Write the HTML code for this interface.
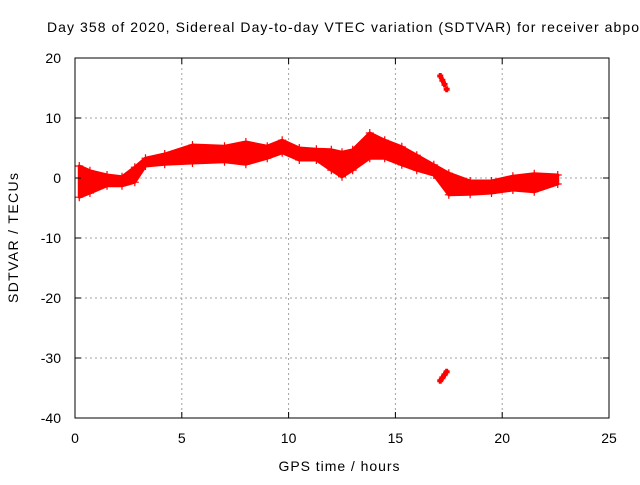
<!DOCTYPE html>
<html><head><meta charset="utf-8"><style>
body{margin:0;background:#fff;overflow:hidden}
svg{font-family:"Liberation Sans",sans-serif;font-size:14px}
</style></head><body>
<svg id="c" width="640" height="480">
<text x="47" y="32" textLength="592" lengthAdjust="spacing">Day 358 of 2020, Sidereal Day-to-day VTEC variation (SDTVAR) for receiver abpo</text>
<g id="grid"></g><g id="data"></g><g id="axes"></g>
<text x="339" y="471" text-anchor="middle" textLength="121">GPS time / hours</text>
<text transform="translate(18,238) rotate(-90)" text-anchor="middle" textLength="130">SDTVAR / TECUs</text>
</svg>
<script>
const xTicks=[0,5,10,15,20,25];
const yTicks=[20,10,0,-10,-20,-30,-40];
const hours=[0.2,0.7,1.5,2.2,2.8,3.3,4.2,5.5,7,8,9,9.7,10.5,11.3,12,12.5,13,13.8,14.5,15.3,16,16.8,17.5,18.5,19.5,20.5,21.5,22.6];
const upper=[2,1.2,0.5,0.2,1.8,3.3,4,5.5,5.3,6,5.3,6.3,5,4.8,4.7,4.3,4.7,7.5,6.3,5.2,3.8,2.2,0.8,-0.5,-0.5,0.3,0.7,0.5];
const lower=[-3.2,-2.5,-1.3,-1.3,-0.7,2,2.3,2.5,2.7,2.3,3.3,4.2,3,3,1.3,0.2,1.3,3.3,3.3,2.2,1.3,0.5,-2.8,-2.7,-2.5,-2,-2.3,-1];
const outHours=[17.1,17.2,17.3,17.4,17.1,17.2,17.3,17.4];
const outValues=[17,16.3,15.6,14.8,-33.8,-33.3,-32.8,-32.3];
const NS="http://www.w3.org/2000/svg";
const X0=75,X1=609,Y0=58,Y1=418;
const sx=v=>X0+(v-0)/25*(X1-X0);
const sy=v=>Y0+(20-v)/60*(Y1-Y0);
function mk(tag,attrs,parent){const e=document.createElementNS(NS,tag);for(const k in attrs)e.setAttribute(k,attrs[k]);parent.appendChild(e);return e;}
const grid=document.getElementById('grid'),axes=document.getElementById('axes'),data=document.getElementById('data');
xTicks.forEach(t=>{
 const x=sx(t);
 if(t>0&&t<25){const g=mk('line',{x1:x,x2:x,y1:Y0,y2:Y1,stroke:'#a0a0a0','stroke-dasharray':'2,3'},grid);
 }
 mk('line',{x1:x,x2:x,y1:Y1,y2:Y1-6,stroke:'#000'},axes);
 mk('line',{x1:x,x2:x,y1:Y0,y2:Y0+6,stroke:'#000'},axes);
 const l=mk('text',{x:x,y:443,'text-anchor':'middle'},axes);l.textContent=t;
 
});
yTicks.forEach(t=>{
 const y=sy(t);
 if(t<20&&t>-40){const g=mk('line',{x1:X0,x2:X1,y1:y,y2:y,stroke:'#a0a0a0','stroke-dasharray':'2,3'},grid);
 }
 mk('line',{x1:X0,x2:X0+6,y1:y,y2:y,stroke:'#000'},axes);
 mk('line',{x1:X1,x2:X1-6,y1:y,y2:y,stroke:'#000'},axes);
 const l=mk('text',{x:61,y:y+5,'text-anchor':'end'},axes);l.textContent=t;
 
});
const b=mk('rect',{x:X0,y:Y0,width:X1-X0,height:Y1-Y0,fill:'none',stroke:'#000'},axes);

let pts=hours.map((h,i)=>sx(h)+','+sy(upper[i]));
for(let i=hours.length-1;i>=0;i--)pts.push(sx(hours[i])+','+sy(lower[i]));
const band=mk('polygon',{points:pts.join(' '),fill:'#f00',stroke:'#f00','stroke-width':3,'stroke-linejoin':'round'},data);

function plus(x,y){const p=mk('path',{d:`M${x-4},${y}h8M${x},${y-4}v8`,stroke:'#f00','stroke-width':1.2},data);
 }
hours.forEach((h,i)=>{plus(sx(h),sy(upper[i]));plus(sx(h),sy(lower[i]));});
outHours.forEach((h,i)=>{
 const p=mk('path',{d:`M${sx(h)-3},${sy(outValues[i])}h6M${sx(h)},${sy(outValues[i])-3}v6`,stroke:'#f00','stroke-width':3},data);
 
});
</script>
</body></html>
